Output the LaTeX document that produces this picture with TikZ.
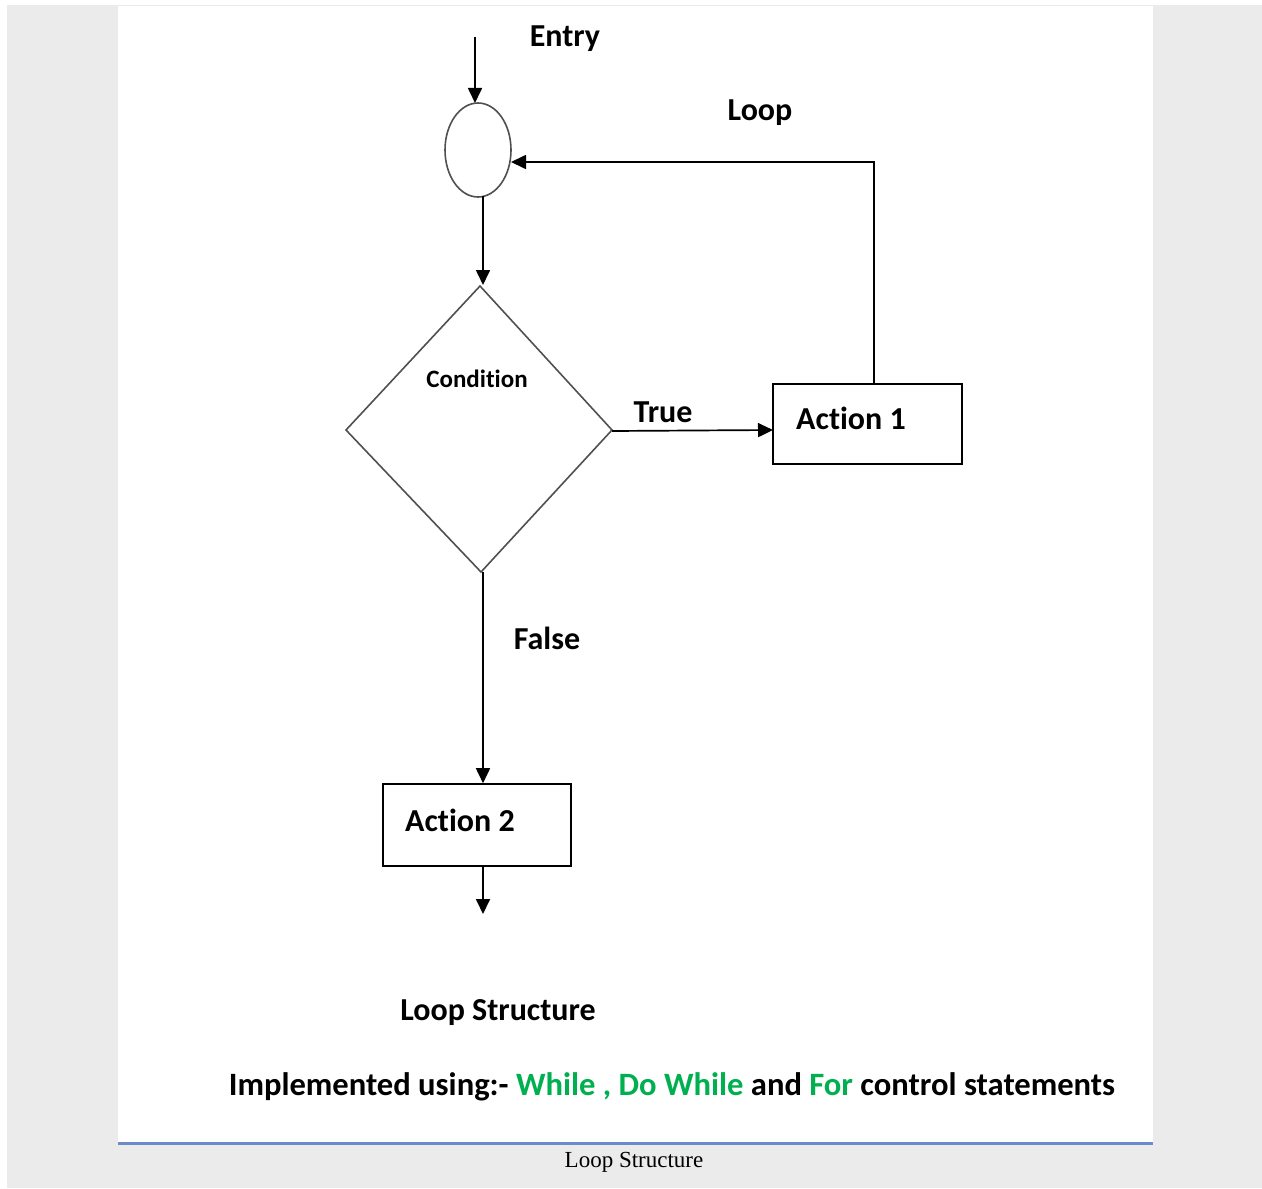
\documentclass[tikz,border=0pt]{standalone}
\usepackage{fontspec}
\setmainfont{Carlito}[Ligatures={NoCommon,NoRequired,NoContextual}]
\newfontfamily\capfont{Liberation Serif}
\usetikzlibrary{arrows.meta,shapes.geometric}
\definecolor{pagegray}{HTML}{EBEBEB}
\definecolor{officegreen}{HTML}{00B050}
\definecolor{rulblue}{HTML}{6A8CC7}
\definecolor{shapegray}{HTML}{505050}
\tikzset{
  conn/.style={draw=black,line width=0.85pt,-{Triangle[length=7.5pt,width=7pt]}},
  lbl/.style={font=\bfseries\fontsize{16}{19}\selectfont,inner sep=0pt,anchor=center},
  boxst/.style={draw=black,line width=0.8pt,fill=white},
}
\begin{document}
\begin{tikzpicture}[x=0.5pt,y=-0.5pt]
\useasboundingbox (0,0) rectangle (1262,1188);
\fill[white] (0,0) rectangle (1262,1188);
\fill[pagegray] (7,5) rectangle (1262,1188);
\fill[white] (118,6) rectangle (1153,1143);
\draw[rulblue,line width=1.1pt] (118,1143.5) -- (1153,1143.5);
\node[font=\capfont\fontsize{11.5}{13}\selectfont,inner sep=0pt] (cap) at (634,1162) {Loop Structure};

% shapes
\draw[shapegray,line width=0.8pt] (478,150) ellipse [x radius=33, y radius=47];
\coordinate (elltop) at (475,103);
\coordinate (ellright) at (511,162);
\coordinate (ellbot) at (483,196);
\draw[shapegray,line width=0.8pt] (480,286) -- (612,430) -- (481,572) -- (346,430) -- cycle;
\coordinate (dtop) at (483,285);
\coordinate (dright) at (612,431);
\coordinate (dbot) at (483,572);
\node[boxst,minimum width=94.5pt,minimum height=40pt,inner sep=0pt] (a1) at (867.5,424) {};
\node[boxst,minimum width=94pt,minimum height=41pt,inner sep=0pt] (a2) at (477,825) {};

% labels
\node[lbl] (entry) at (565,39) {Entry};
\node[lbl] (loop) at (760,113) {Loop};
\node[font=\bfseries\fontsize{12.5}{15}\selectfont,inner sep=0pt] (cond) at (477,379) {Condition};
\node[lbl] (true) at (663,412) {True};
\node[lbl] (t1) at (851,418) {Action 1};
\node[lbl] (false) at (547,638) {False};
\node[lbl] (t2) at (460,820) {Action 2};
\node[lbl] (ls) at (498,1013) {Loop Structure};
\node[font=\bfseries\fontsize{16.3}{19}\selectfont,inner sep=0pt] (impl) at (672,1087) {Implemented using:- \textcolor{officegreen}{While , Do While} and \textcolor{officegreen}{For} control statements};

% connectors
\coordinate (start) at (475,37);
\draw[conn] (start) -- (elltop);
\draw[conn] (ellbot) -- (dtop);
\coordinate (a1in) at (773,430);
\draw[conn] (dright) -- (a1in);
\coordinate (lcorner) at (874,162);
\draw[conn] (a1.north -| lcorner) -- (lcorner) -- (ellright);
\draw[conn] (dbot) -- (a2.north -| dbot);
\coordinate (endpt) at (483,914);
\draw[conn] (a2.south -| endpt) -- (endpt);
\end{tikzpicture}
\end{document}
